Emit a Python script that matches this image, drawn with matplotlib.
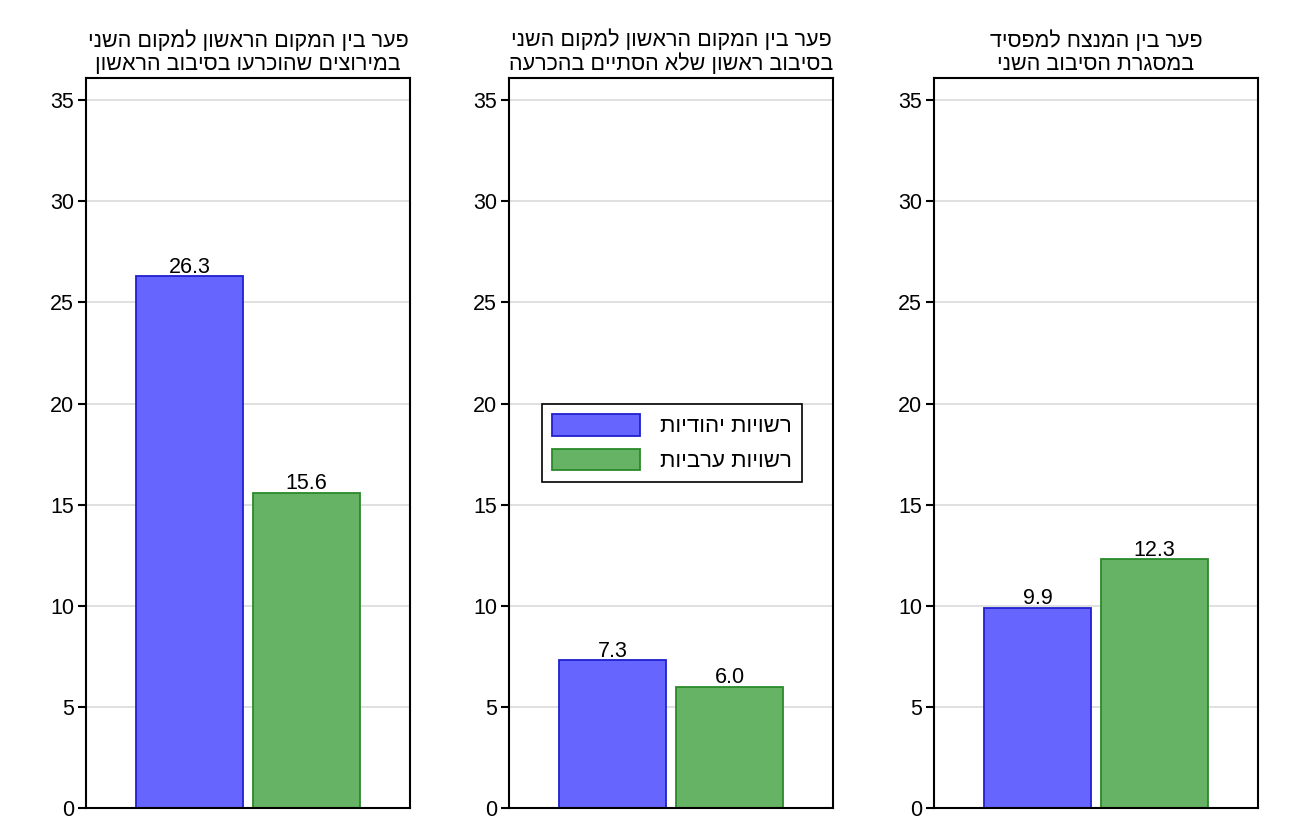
import matplotlib
matplotlib.use("Agg")
import matplotlib.pyplot as plt
from matplotlib.patches import Patch

plt.rcParams['font.family'] = ['Liberation Sans', 'DejaVu Sans']

titles = [
    "פער בין המקום הראשון למקום השני\nבמירוצים שהוכרעו בסיבוב הראשון",
    "פער בין המקום הראשון למקום השני\nבסיבוב ראשון שלא הסתיים בהכרעה",
    "פער בין המנצח למפסיד\nבמסגרת הסיבוב השני",
]
series_names = ["רשויות יהודיות", "רשויות ערביות"]
jewish_values = [26.3, 7.3, 9.9]
arab_values = [15.6, 6.0, 12.3]
yticks = [0, 5, 10, 15, 20, 25, 30, 35]


def rtl(s):
    return "\n".join(line[::-1] for line in s.split("\n"))


fig = plt.figure(figsize=(12.9, 8.38), dpi=100)
lefts = [86, 509, 934]
W, H = 1290, 838
ax_w = 324
top, bottom = 78, 808

fills = [(0.4, 0.4, 1.0), (0.4, 0.7, 0.4)]
edges = ["#2020d0", "#2a8a2a"]

axes = []
for i, left in enumerate(lefts):
    ax = fig.add_axes([left / W, 1 - bottom / H, ax_w / W, (bottom - top) / H])
    vals = [jewish_values[i], arab_values[i]]
    for j, v in enumerate(vals):
        ax.bar(j, v, width=0.915, color=fills[j], edgecolor=edges[j],
               linewidth=1.3, zorder=2)
        ax.annotate(f"{v:.1f}", (j, v), xytext=(0, -1), textcoords="offset points",
                    ha="center", va="bottom", fontsize=15.5)
    ax.set_xlim(-0.885, 1.885)
    ax.set_ylim(0, 36.1)
    ax.set_yticks(yticks)
    ax.set_yticklabels([str(t) for t in yticks], fontsize=15.5)
    ax.set_xticks([])
    ax.yaxis.grid(True, color="#dddddd", linewidth=1.3, zorder=0)
    ax.set_axisbelow(True)
    for sp in ax.spines.values():
        sp.set_linewidth(1.5)
        sp.set_color("black")
    ax.tick_params(axis="y", length=5.5, width=1.5, pad=3)
    ax.set_title(rtl(titles[i]), fontsize=15.5, pad=6, linespacing=1.12)
    axes.append(ax)

handles = [Patch(facecolor=fills[k], edgecolor=edges[k], linewidth=1.3) for k in range(2)]
leg = axes[1].legend(handles, [rtl(n) for n in series_names], loc="center",
                     bbox_to_anchor=(0.503, 0.5), fontsize=16, frameon=True,
                     fancybox=False, framealpha=1, edgecolor="black",
                     handlelength=3.95, handleheight=1.1, borderpad=0.45,
                     labelspacing=0.5, handletextpad=0.9, borderaxespad=0)
leg.get_frame().set_linewidth(1.2)

fig.savefig("out.png", dpi=100)
